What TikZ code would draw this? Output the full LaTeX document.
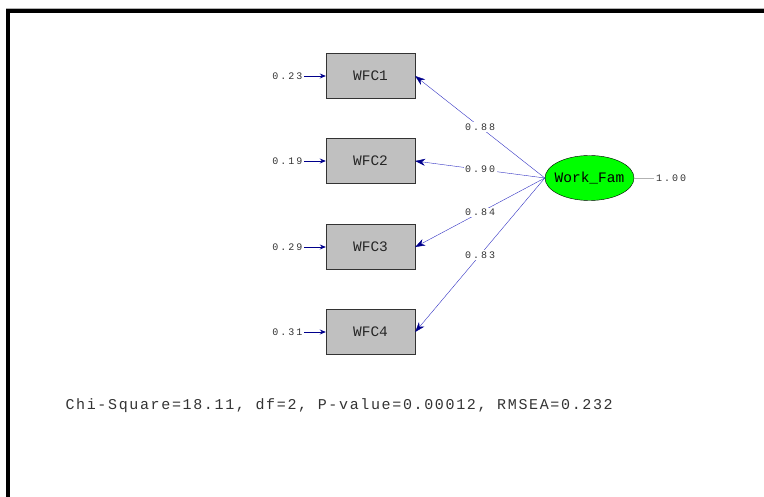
\documentclass[tikz,border=0pt]{standalone}
\usepackage{fontspec}
\setmainfont{Liberation Mono}
\newfontfamily\LabelFont[LetterSpace=20]{Liberation Mono}
\newfontfamily\FitFont[LetterSpace=11]{Liberation Mono}
\usetikzlibrary{arrows.meta,shapes.geometric}
\definecolor{BoxGray}{RGB}{192,192,192}
\definecolor{FamGreen}{RGB}{0,255,0}
\definecolor{PathBlue}{RGB}{50,50,195}
\definecolor{TipBlue}{RGB}{0,0,140}
\tikzset
{
  IndicatorStyle/.style =
  {
    shape = rectangle,
    draw = black!80,
    fill = BoxGray,
    minimum width = 89pt,
    minimum height = 45pt,
    font = \fontsize{14.5}{16}\selectfont,
    text = black!85,
  },
  FactorStyle/.style =
  {
    shape = ellipse,
    draw = black,
    fill = FamGreen,
    minimum width = 89pt,
    minimum height = 45pt,
    inner xsep = -4pt,
    inner ysep = 0pt,
    font = \fontsize{14.5}{16}\selectfont,
  },
  ValueStyle/.style =
  {
    font = \LabelFont\fontsize{10}{11}\selectfont,
    text = black!80,
    inner sep = 1.5pt,
  },
  LoadingStyle/.style =
  {
    draw = PathBlue,
    -{Stealth[length = 10pt, width = 7pt, color = TipBlue]},
  },
  ErrorStyle/.style =
  {
    draw = TipBlue,
    thick,
    -{Stealth[length = 6pt, width = 5pt, color = TipBlue]},
  },
}

\begin{document}
\begin{tikzpicture}[x = 1pt, y = -1pt]
  \useasboundingbox (0,0) rectangle (764,497);
  \draw[gray!60, line width = 1pt] (6,8.5) -- (764,8.5);
  \draw[black, line width = 4pt] (8,497) -- (8,11) -- (764,11);

  \node[FactorStyle] (fam) at (589.5,178) {Work\_Fam};
  \node[ValueStyle] (famvar) at (671,178) {1.00};
  \draw[gray!60] (fam.east) -- (famvar.west);

  \foreach \i/\y/\err/\load in {1/76/0.23/0.88, 2/161/0.19/0.90, 3/247/0.29/0.84, 4/332/0.31/0.83}
  {
    \node[IndicatorStyle] (wfc\i) at (370.5,\y) {WFC\i};
    \node[ValueStyle] (err\i) at (287.5,\y) {\err};
    \draw[ErrorStyle] (err\i.east) -- (wfc\i.west);
    \draw[LoadingStyle] (fam.west) -- node[ValueStyle, fill = white, pos = 0.5] {\load} (wfc\i.east);
  }

  \node[font = \FitFont\fontsize{15}{17}\selectfont, text = black!80, anchor = west] (fit) at (62,406)
    {Chi-Square=18.11, df=2, P-value=0.00012, RMSEA=0.232};
\end{tikzpicture}
\end{document}
